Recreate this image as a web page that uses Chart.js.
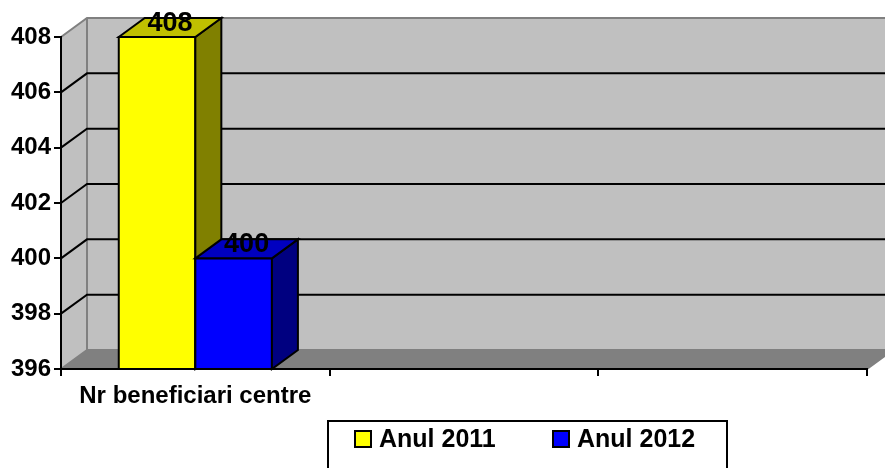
<!DOCTYPE html>
<html>
<head>
<meta charset="utf-8">
<script src="https://cdn.jsdelivr.net/npm/chart.js@4.4.1/dist/chart.umd.min.js"></script>
<style>
  html, body { margin: 0; padding: 0; background: #fff; }
  #wrap { width: 885px; height: 468px; }
</style>
</head>
<body>
<div id="wrap"><canvas id="benefChart" width="885" height="468"></canvas></div>
<script>
// data
const categories = ['Nr beneficiari centre', '', ''];
const anul2011 = [408, null, null];
const anul2012 = [400, null, null];
const seriesNames = ['Anul 2011', 'Anul 2012'];
const yTicks = [396, 398, 400, 402, 404, 406, 408];

// 3d look (Excel style)
const DX = 26, DY = 19;
const faces = [
    { front: '#ffff00', side: '#808000', top: '#c0c000' },
    { front: '#0000ff', side: '#000080', top: '#0000c0' }
];
const FONT = 'Liberation Sans, Arial, sans-serif';

function poly(ctx, pts) {
    ctx.beginPath();
    ctx.moveTo(pts[0][0], pts[0][1]);
    for (let i = 1; i < pts.length; i++) ctx.lineTo(pts[i][0], pts[i][1]);
    ctx.closePath();
}

// back wall, side wall, floor and grid lines
const walls = {
    id: 'walls',
    beforeDraw(chart) {
        const { ctx, chartArea: a, scales: { y } } = chart;
        ctx.save();
        ctx.fillStyle = '#c0c0c0';
        poly(ctx, [[a.left, a.top], [a.left + DX, a.top - DY], [a.left + DX, a.bottom - DY], [a.left, a.bottom]]);
        ctx.fill();
        ctx.fillRect(a.left + DX, a.top - DY, a.right - a.left, a.bottom - a.top);

        ctx.fillStyle = '#808080';
        poly(ctx, [[a.left, a.bottom], [a.left + DX, a.bottom - DY], [a.right + DX, a.bottom - DY], [a.right, a.bottom]]);
        ctx.fill();

        // wall edges
        ctx.strokeStyle = '#808080';
        ctx.lineWidth = 2;
        ctx.beginPath();
        ctx.moveTo(a.left, a.top);
        ctx.lineTo(a.left + DX, a.top - DY);
        ctx.lineTo(a.right + DX, a.top - DY);
        ctx.moveTo(a.left + DX, a.top - DY);
        ctx.lineTo(a.left + DX, a.bottom - DY);
        ctx.lineTo(a.right + DX, a.bottom - DY);
        ctx.moveTo(a.left, a.bottom);
        ctx.lineTo(a.left + DX, a.bottom - DY);
        ctx.moveTo(a.right, a.bottom);
        ctx.lineTo(a.right + DX, a.bottom - DY);
        ctx.stroke();

        // grid lines
        ctx.strokeStyle = '#000';
        ctx.beginPath();
        yTicks.slice(1, -1).forEach(v => {
            const py = y.getPixelForValue(v);
            ctx.moveTo(a.left, py);
            ctx.lineTo(a.left + DX, py - DY);
            ctx.lineTo(a.right + DX, py - DY);
        });
        ctx.stroke();
        ctx.restore();
    }
};

// 3d bars and value labels
const bars3d = {
    id: 'bars3d',
    afterDatasetsDraw(chart) {
        const ctx = chart.ctx;
        const y = chart.scales.y;
        const yb = y.getPixelForValue(y.min);
        const labels = [];
        ctx.save();
        ctx.lineWidth = 2;
        ctx.strokeStyle = '#000';
        chart.data.datasets.forEach((ds, i) => {
            const meta = chart.getDatasetMeta(i);
            meta.data.forEach((bar, j) => {
                if (ds.data[j] == null) return;
                const p = bar.getProps(['x', 'y', 'width'], true);
                const x1 = p.x - p.width / 2, x2 = p.x + p.width / 2;
                const yt = p.y;
                const c = faces[i];
                // front
                ctx.fillStyle = c.front;
                ctx.fillRect(x1, yt, x2 - x1, yb - yt);
                ctx.strokeRect(x1, yt, x2 - x1, yb - yt);
                // side
                ctx.fillStyle = c.side;
                poly(ctx, [[x2, yt], [x2 + DX, yt - DY], [x2 + DX, yb - DY], [x2, yb]]);
                ctx.fill(); ctx.stroke();
                // top
                ctx.fillStyle = c.top;
                poly(ctx, [[x1, yt], [x1 + DX, yt - DY], [x2 + DX, yt - DY], [x2, yt]]);
                ctx.fill(); ctx.stroke();
                labels.push({ text: String(ds.data[j]), x: p.x + DX / 2, y: yt - DY / 2 - 4 });
            });
        });
        ctx.fillStyle = '#000';
        ctx.font = 'bold 27px ' + FONT;
        ctx.textAlign = 'center';
        ctx.textBaseline = 'middle';
        labels.forEach(l => ctx.fillText(l.text, l.x, l.y));
        ctx.restore();
    }
};

// boxed legend under the plot
const boxLegend = {
    id: 'boxLegend',
    afterDraw(chart) {
        const ctx = chart.ctx;
        const itemX = [355, 553];
        ctx.save();
        ctx.strokeStyle = '#000';
        ctx.lineWidth = 2;
        ctx.strokeRect(328, 421, 399, 60);
        ctx.font = 'bold 25px ' + FONT;
        ctx.textBaseline = 'middle';
        ctx.textAlign = 'left';
        chart.data.datasets.forEach((ds, i) => {
            ctx.fillStyle = faces[i].front;
            ctx.fillRect(itemX[i], 431, 16, 16);
            ctx.strokeRect(itemX[i], 431, 16, 16);
            ctx.fillStyle = '#000';
            ctx.fillText(ds.label, itemX[i] + 24, 440);
        });
        ctx.restore();
    }
};

const ctx = document.getElementById('benefChart').getContext('2d');
const benefChart = new Chart(ctx, {
    type: 'bar',
    data: {
        labels: categories,
        datasets: [
            { label: seriesNames[0], data: anul2011, backgroundColor: faces[0].front },
            { label: seriesNames[1], data: anul2012, backgroundColor: faces[1].front }
        ]
    },
    options: {
        responsive: false,
        animation: false,
        layout: { padding: { top: 37, right: 18, left: 0, bottom: 0 } },
        datasets: { bar: { categoryPercentage: 0.57, barPercentage: 1 } },
        scales: {
            x: {
                afterFit: s => { s.height = 99; },
                grid: { drawOnChartArea: false, offset: true, tickLength: 7, color: '#000', lineWidth: 2 },
                border: { display: true, color: '#000', width: 2 },
                ticks: { color: '#000', padding: 6, maxRotation: 0, font: { family: FONT, size: 24, weight: 'bold' } }
            },
            y: {
                min: 396,
                max: 408,
                afterFit: s => { s.width = 61; },
                afterBuildTicks: s => { s.ticks = yTicks.map(v => ({ value: v })); },
                grid: { drawOnChartArea: false, tickLength: 7, color: '#000', lineWidth: 2 },
                border: { display: true, color: '#000', width: 2 },
                ticks: { color: '#000', padding: 3, font: { family: FONT, size: 24, weight: 'bold' } }
            }
        },
        plugins: {
            legend: { display: false },
            tooltip: { enabled: false },
            title: { display: false }
        }
    },
    plugins: [walls, bars3d, boxLegend]
});
</script>
</body>
</html>
